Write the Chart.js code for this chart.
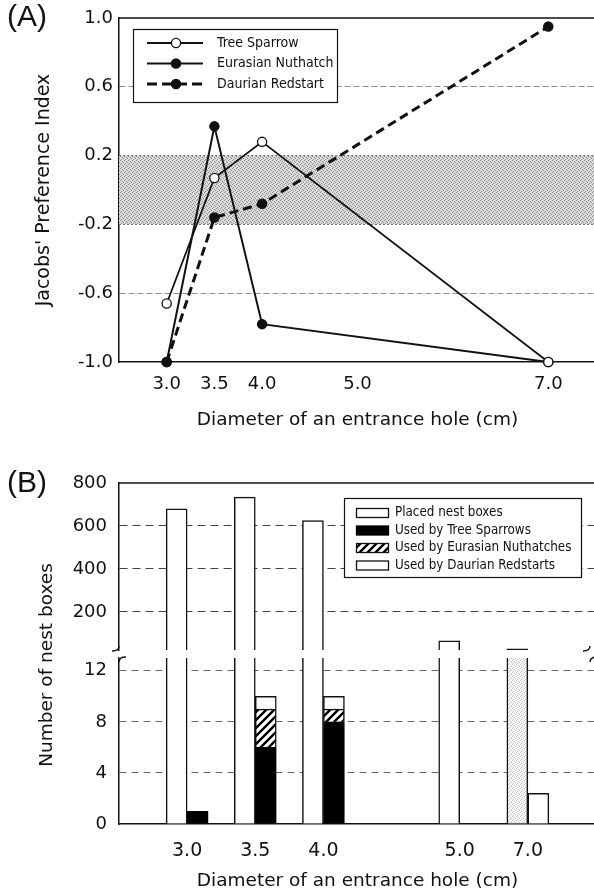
<!DOCTYPE html>
<html>
<head>
<meta charset="utf-8">
<script src="https://cdn.jsdelivr.net/npm/chart.js@4.4.1/dist/chart.umd.min.js"></script>
<style>
html, body { margin:0; padding:0; background:#fff; overflow:hidden; width:594px; height:896px; }
canvas { position:absolute; left:0; }
#cA { top:0; }
#cBtop { top:440px; }
#cBbot { top:640px; }
.tag { position:absolute; font-family:'Liberation Sans', Arial, sans-serif; font-size:30px; line-height:1; color:#111; }
#yTitleB { position:absolute; left:45px; top:665px; transform:translate(-50%,-50%) rotate(-90deg);
  font-family:'DejaVu Sans', sans-serif; font-size:18.5px; white-space:nowrap; color:#111; }
</style>
</head>
<body>
<canvas id="cA" width="597" height="440"></canvas>
<canvas id="cBtop" width="597" height="211"></canvas>
<canvas id="cBbot" width="597" height="256"></canvas>
<div class="tag" style="left:7px;top:1px">(A)</div>
<div class="tag" style="left:7px;top:467px">(B)</div>
<div id="yTitleB">Number of nest boxes</div>
<script>
// (A) Jacobs' preference index by entrance-hole diameter
const holeA = [3.0, 3.5, 4.0, 7.0];
const treeSparrowJ = [-0.66, 0.07, 0.28, -1.0];
const nuthatchJ = [-1.0, 0.37, -0.78, -1.0];
const redstartJ = [-1.0, -0.16, -0.08, 0.95];
const xTicksA = [3.0, 3.5, 4.0, 5.0, 7.0];
const yTicksA = [-1.0, -0.6, -0.2, 0.2, 0.6, 1.0];
const gridLinesA = [-0.6, 0.6];
const bandA = [-0.2, 0.2]; // neutral preference zone

// (B) nest boxes placed and used
const holeLabelsB = ['', '3.0', '3.5', '4.0', '', '5.0', '7.0', ''];
const placedBoxes = [null, 680, 734, 625, null, 66, 28, null];
const usedSparrow = [null, 1, 6, 8, null, 0, 0, null];
const usedNuthatch = [null, 0, 3, 1, null, 0, 0, null];
const usedRedstart = [null, 0, 1, 1, null, 0, 2.4, null];
const yTicksBtop = [200, 400, 600, 800];
const yTicksBbot = [0, 4, 8, 12];

Chart.defaults.font.family = "'DejaVu Sans', sans-serif";
Chart.defaults.color = '#111';

const INK = '#111';
const legendFontA = "14px 'DejaVu Sans Condensed', 'DejaVu Sans', sans-serif";
const legendFontB = "13.3px 'DejaVu Sans Condensed', 'DejaVu Sans', sans-serif";

function makeHatch(){
  const c = document.createElement('canvas'); c.width = 8; c.height = 8;
  const g = c.getContext('2d');
  g.fillStyle = '#fff'; g.fillRect(0, 0, 8, 8);
  g.strokeStyle = '#000'; g.lineWidth = 2.4;
  g.beginPath();
  g.moveTo(-2, 10); g.lineTo(10, -2);
  g.moveTo(-6, 6); g.lineTo(6, -6);
  g.moveTo(2, 14); g.lineTo(14, 2);
  g.stroke();
  return g.createPattern(c, 'repeat');
}
function makeStipple(ctx, base, dot){
  const c = document.createElement('canvas'); c.width = 4; c.height = 4;
  const g = c.getContext('2d');
  g.fillStyle = base; g.fillRect(0, 0, 4, 4);
  g.fillStyle = dot;
  [[0,0],[2,1],[1,3],[3,2]].forEach(p => g.fillRect(p[0], p[1], 1, 1));
  return ctx.createPattern(c, 'repeat');
}
const hatch = makeHatch();
const paleDots = makeStipple(document.createElement('canvas').getContext('2d'), '#f4f4f4', '#c4c4c4');

// fixed axis boxes so both panels share the same plot edges
const fitX = h => s => { s.height = h; s.paddingLeft = 0; s.paddingRight = 0; };
const fitY = s => { s.width = 119; s.paddingTop = 0; s.paddingBottom = 0; };

const topBorder = {
  id: 'topBorder',
  beforeDatasetsDraw(chart){
    const {ctx, chartArea: a} = chart;
    ctx.save();
    ctx.strokeStyle = INK; ctx.lineWidth = 1.5;
    ctx.beginPath(); ctx.moveTo(a.left, a.top); ctx.lineTo(a.right, a.top); ctx.stroke();
    ctx.restore();
  }
};

const bandPlugin = {
  id: 'band',
  beforeDatasetsDraw(chart){
    const {ctx, chartArea: a, scales: {y}} = chart;
    const yTop = y.getPixelForValue(bandA[1]), yBot = y.getPixelForValue(bandA[0]);
    ctx.save();
    ctx.fillStyle = makeStipple(ctx, '#dadada', '#909090');
    ctx.fillRect(a.left, yTop, a.right - a.left, yBot - yTop);
    ctx.strokeStyle = '#6a6a6a'; ctx.lineWidth = 1; ctx.setLineDash([2, 2]);
    [yTop, yBot].forEach(py => { ctx.beginPath(); ctx.moveTo(a.left, py); ctx.lineTo(a.right, py); ctx.stroke(); });
    ctx.restore();
  }
};

const legendA = {
  id: 'legendA',
  afterDraw(chart){
    const {ctx} = chart;
    ctx.save();
    ctx.fillStyle = '#fff'; ctx.fillRect(133, 29, 204, 73);
    ctx.strokeStyle = INK; ctx.lineWidth = 1.2; ctx.strokeRect(133.5, 29.5, 204, 73);
    chart.data.datasets.forEach((ds, i) => {
      const y = 43 + i * 20.5;
      ctx.strokeStyle = ds.borderColor; ctx.lineWidth = ds.borderWidth;
      ctx.setLineDash(ds.borderDash ? [10, 5] : []);
      ctx.beginPath(); ctx.moveTo(147, y); ctx.lineTo(203, y); ctx.stroke();
      ctx.setLineDash([]);
      ctx.beginPath(); ctx.arc(176, y, ds.pointRadius, 0, Math.PI * 2);
      ctx.fillStyle = ds.pointBackgroundColor; ctx.fill();
      ctx.lineWidth = ds.pointBorderWidth; ctx.strokeStyle = ds.pointBorderColor; ctx.stroke();
      ctx.fillStyle = INK; ctx.font = legendFontA; ctx.textBaseline = 'middle';
      ctx.fillText(ds.label, 217, y);
    });
    ctx.restore();
  }
};

const pts = ys => holeA.map((x, i) => ({x, y: ys[i]}));
const lineStyle = {borderColor: INK, pointBorderColor: INK, pointBorderWidth: 1.3, pointRadius: 4.6, tension: 0, clip: false};

new Chart(document.getElementById('cA'), {
  type: 'line',
  data: {
    datasets: [
      Object.assign({label: 'Tree Sparrow', data: pts(treeSparrowJ), borderWidth: 1.8, pointBackgroundColor: '#fff'}, lineStyle),
      Object.assign({label: 'Eurasian Nuthatch', data: pts(nuthatchJ), borderWidth: 2, pointBackgroundColor: INK}, lineStyle),
      Object.assign({label: 'Daurian Redstart', data: pts(redstartJ), borderWidth: 3, borderDash: [9, 5], pointBackgroundColor: INK}, lineStyle)
    ]
  },
  options: {
    responsive: false, animation: false,
    layout: {autoPadding: false, padding: {top: 18, right: 1, left: 0, bottom: 0}},
    plugins: {legend: {display: false}, tooltip: {enabled: false}},
    scales: {
      x: {
        type: 'linear', min: 2.5, max: 7.5,
        afterBuildTicks: s => { s.ticks = xTicksA.map(v => ({value: v})); },
        afterFit: fitX(78),
        grid: {display: false},
        border: {display: true, color: INK, width: 1.5},
        ticks: {padding: 4, font: {size: 18}, color: INK, maxRotation: 0, autoSkip: false, callback: v => Number(v).toFixed(1)},
        title: {display: true, text: 'Diameter of an entrance hole (cm)', font: {size: 18.5}, color: INK, padding: {top: 0, bottom: 9}}
      },
      y: {
        min: -1, max: 1,
        afterBuildTicks: s => { s.ticks = yTicksA.map(v => ({value: v})); },
        afterFit: fitY,
        grid: {drawTicks: false, lineWidth: 1, color: c => (c.tick && gridLinesA.includes(c.tick.value)) ? '#8c8c8c' : 'rgba(0,0,0,0)'},
        border: {display: true, color: INK, width: 1.5, dash: [6, 3]},
        ticks: {padding: 6, font: {size: 18}, color: INK, callback: v => Number(v).toFixed(1)},
        title: {display: true, text: "Jacobs' Preference Index", font: {size: 19}, color: INK, padding: {top: 33, bottom: 0}}
      }
    }
  },
  plugins: [bandPlugin, topBorder, legendA]
});

// bar looks shared by both halves of panel B and its legend
const barLook = [
  {label: 'Placed nest boxes', bg: '#fff', border: INK},
  {label: 'Used by Tree Sparrows', bg: '#000', border: '#000'},
  {label: 'Used by Eurasian Nuthatches', bg: hatch, border: INK},
  {label: 'Used by Daurian Redstarts', bg: '#fff', border: INK}
];
const barData = [placedBoxes, usedSparrow, usedNuthatch, usedRedstart];

function barSets(upper){
  return barLook.map((lk, i) => {
    const hidden = upper && i > 0;
    let bg = hidden ? 'rgba(0,0,0,0)' : lk.bg;
    // the 7.0 cm placed bar is printed with a faint dot screen in the lower half
    if (i === 0 && !upper) bg = c => holeLabelsB[c.dataIndex] === '7.0' ? paleDots : lk.bg;
    return {
      label: lk.label, data: barData[i], stack: i === 0 ? 'placed' : 'used',
      backgroundColor: bg,
      borderColor: lk.border, borderWidth: hidden ? 0 : 1.5,
      borderSkipped: 'start', barThickness: 21, clip: 0
    };
  });
}

const legendB = {
  id: 'legendB',
  afterDraw(chart){
    const {ctx} = chart;
    ctx.save();
    ctx.fillStyle = '#fff'; ctx.fillRect(344, 58, 237, 79);
    ctx.strokeStyle = INK; ctx.lineWidth = 1.2; ctx.strokeRect(344.5, 58.5, 237, 79);
    barLook.forEach((lk, i) => {
      const y = 73 + i * 17.5;
      ctx.fillStyle = lk.bg; ctx.fillRect(356, y - 4.5, 33, 9);
      ctx.strokeStyle = lk.border; ctx.lineWidth = 1.3; ctx.strokeRect(356.5, y - 4.5, 32, 9);
      ctx.fillStyle = INK; ctx.font = legendFontB; ctx.textBaseline = 'middle';
      ctx.fillText(lk.label, 395, y);
    });
    ctx.restore();
  }
};

const breakMarks = {
  id: 'breakMarks',
  afterDraw(chart){
    const {ctx, chartArea: a} = chart;
    const yb = a.top - 8; // bottom of the upper half
    ctx.save();
    ctx.strokeStyle = INK; ctx.lineWidth = 1.4;
    [a.left, a.right - 6].forEach(x => {
      ctx.beginPath(); ctx.moveTo(x, yb - 4); ctx.quadraticCurveTo(x, yb + 1, x - 7, yb + 1); ctx.stroke();
      ctx.beginPath(); ctx.moveTo(x, a.top + 4); ctx.quadraticCurveTo(x, a.top - 1, x + 7, a.top - 1); ctx.stroke();
    });
    ctx.restore();
  }
};

new Chart(document.getElementById('cBtop'), {
  type: 'bar',
  data: {labels: holeLabelsB, datasets: barSets(true)},
  options: {
    responsive: false, animation: false,
    layout: {autoPadding: false, padding: {top: 43, bottom: 1, left: 0, right: 1}},
    plugins: {legend: {display: false}, tooltip: {enabled: false}},
    scales: {
      x: {display: false, offset: false, grid: {display: false}, afterFit: fitX(0)},
      y: {
        stacked: true, min: 23, max: 800,
        afterBuildTicks: s => { s.ticks = yTicksBtop.map(v => ({value: v})); },
        afterFit: fitY,
        grid: {drawTicks: false, lineWidth: 1, color: c => (c.tick && c.tick.value < 800) ? '#444' : 'rgba(0,0,0,0)'},
        border: {display: true, color: INK, width: 1.5, dash: [8, 5]},
        ticks: {padding: 12, font: {size: 18}, color: INK}
      }
    }
  },
  plugins: [topBorder, legendB]
});

new Chart(document.getElementById('cBbot'), {
  type: 'bar',
  data: {labels: holeLabelsB, datasets: barSets(false)},
  options: {
    responsive: false, animation: false,
    layout: {autoPadding: false, padding: {top: 18, bottom: 0, left: 0, right: 1}},
    plugins: {legend: {display: false}, tooltip: {enabled: false}},
    scales: {
      x: {
        offset: false,
        afterFit: fitX(72),
        grid: {display: false},
        border: {display: true, color: INK, width: 1.5},
        ticks: {autoSkip: false, maxRotation: 0, padding: 8, font: {size: 19}, color: INK},
        title: {display: true, text: 'Diameter of an entrance hole (cm)', font: {size: 18.5}, color: INK, padding: {top: 0, bottom: 4}}
      },
      y: {
        stacked: true, min: 0, max: 13,
        afterBuildTicks: s => { s.ticks = yTicksBbot.map(v => ({value: v})); },
        afterFit: fitY,
        grid: {drawTicks: false, lineWidth: 1, color: c => (c.tick && c.tick.value > 0) ? '#666' : 'rgba(0,0,0,0)'},
        border: {display: true, color: INK, width: 1.5, dash: [7, 5]},
        ticks: {padding: 12, font: {size: 18}, color: INK}
      }
    }
  },
  plugins: [breakMarks]
});
</script>
</body>
</html>
